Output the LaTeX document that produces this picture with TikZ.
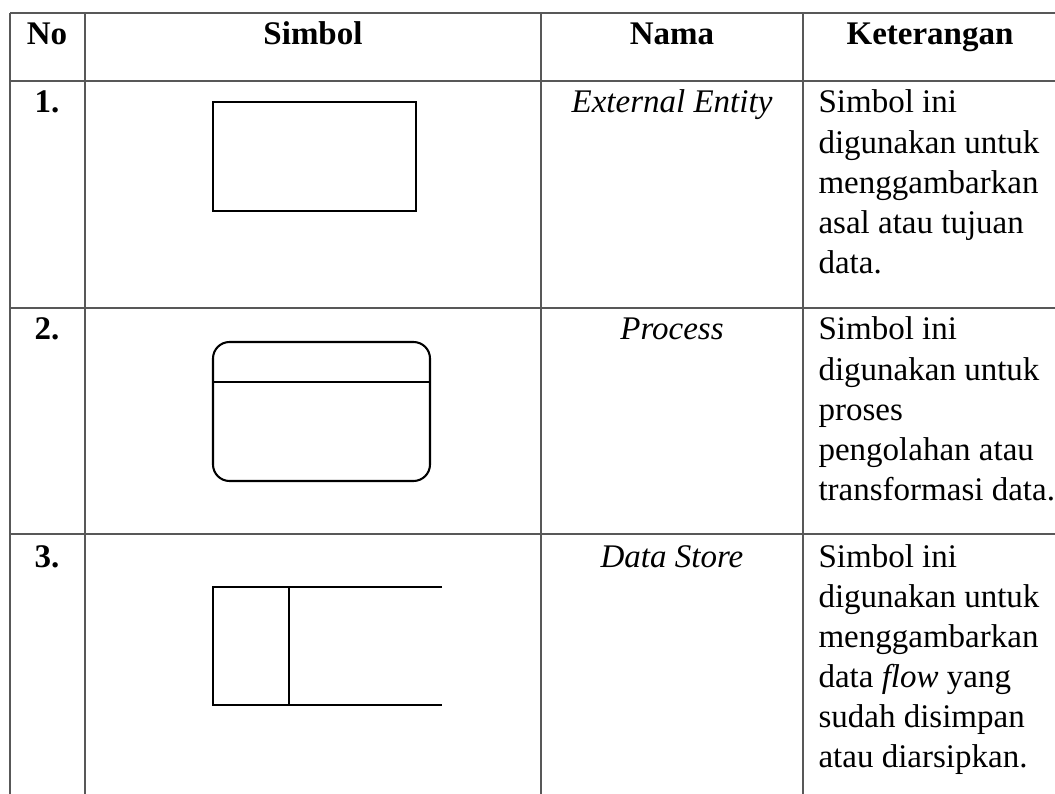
\documentclass[tikz,border=0pt]{standalone}
\usepackage{fontspec}
\setmainfont{Liberation Serif}
\usepackage{tikz}
\usetikzlibrary{positioning}
\usepackage{color}
\definecolor{gridgray}{RGB}{88, 88, 88}
\newcommand{\cellfont}{\fontsize{12}{14.55}\selectfont}

\begin{document}
\begin{tikzpicture}[x=0.3636pt, y=-0.3636pt,
        gridline/.style={color=gridgray, line width=0.6pt},
        symline/.style={color=black, line width=0.75pt},
        headtext/.style={anchor=base, inner sep=0pt, font=\cellfont\bfseries},
        nametext/.style={anchor=base, inner sep=0pt, font=\cellfont\itshape},
        desctext/.style={anchor=base west, inner sep=0pt, font=\cellfont}]
            % Frame to ensure alignment:
            \useasboundingbox                                                 (0, 0) rectangle (1055, 794);
            % Table rules
            \draw[gridline]                                                   (10, 13) -- (1055, 13);
            \draw[gridline]                                                   (10, 81) -- (1055, 81);
            \draw[gridline]                                                   (10, 308) -- (1055, 308);
            \draw[gridline]                                                   (10, 534) -- (1055, 534);
            \draw[gridline]                                                   (10, 13) -- (10, 794);
            \draw[gridline]                                                   (85, 13) -- (85, 794);
            \draw[gridline]                                                   (541, 13) -- (541, 794);
            \draw[gridline]                                                   (803, 13) -- (803, 794);
            % Header
            \node[headtext] (hno)   at (47, 45)  {No};
            \node[headtext] (hsym)  at (313, 45) {Simbol};
            \node[headtext] (hname) at (672, 45) {Nama};
            \node[headtext] (hdesc) at (930, 45) {Keterangan};
            % External Entity
            \node[headtext] (no1)   at (47, 113)  {1.};
            \draw[symline]                                                    (213, 102) rectangle (416, 211);
            \node[nametext] (name1) at (672, 113) {External Entity};
            \node[desctext] (desc1) at (818, 113) {\begin{tabular}[t]{@{}l@{}}Simbol ini\\ digunakan untuk\\ menggambarkan\\ asal atau tujuan\\ data.\end{tabular}};
            % Process
            \node[headtext] (no2)   at (47, 340)  {2.};
            \draw[symline, rounded corners=6pt]                               (213, 342) rectangle (430, 481);
            \draw[symline]                                                    (213, 382) -- (430, 382);
            \node[nametext] (name2) at (672, 340) {Process};
            \node[desctext] (desc2) at (818, 340) {\begin{tabular}[t]{@{}l@{}}Simbol ini\\ digunakan untuk\\ proses\\ pengolahan atau\\ transformasi data.\end{tabular}};
            % Data Store
            \node[headtext] (no3)   at (47, 567)  {3.};
            \draw[symline]                                                    (442, 587) -- (213, 587) -- (213, 705) -- (442, 705);
            \draw[symline]                                                    (289, 587) -- (289, 705);
            \node[nametext] (name3) at (672, 567) {Data Store};
            \node[desctext] (desc3) at (818, 567) {\begin{tabular}[t]{@{}l@{}}Simbol ini\\ digunakan untuk\\ menggambarkan\\ data \textit{flow} yang\\ sudah disimpan\\ atau diarsipkan.\end{tabular}};
        \end{tikzpicture}
\end{document}
